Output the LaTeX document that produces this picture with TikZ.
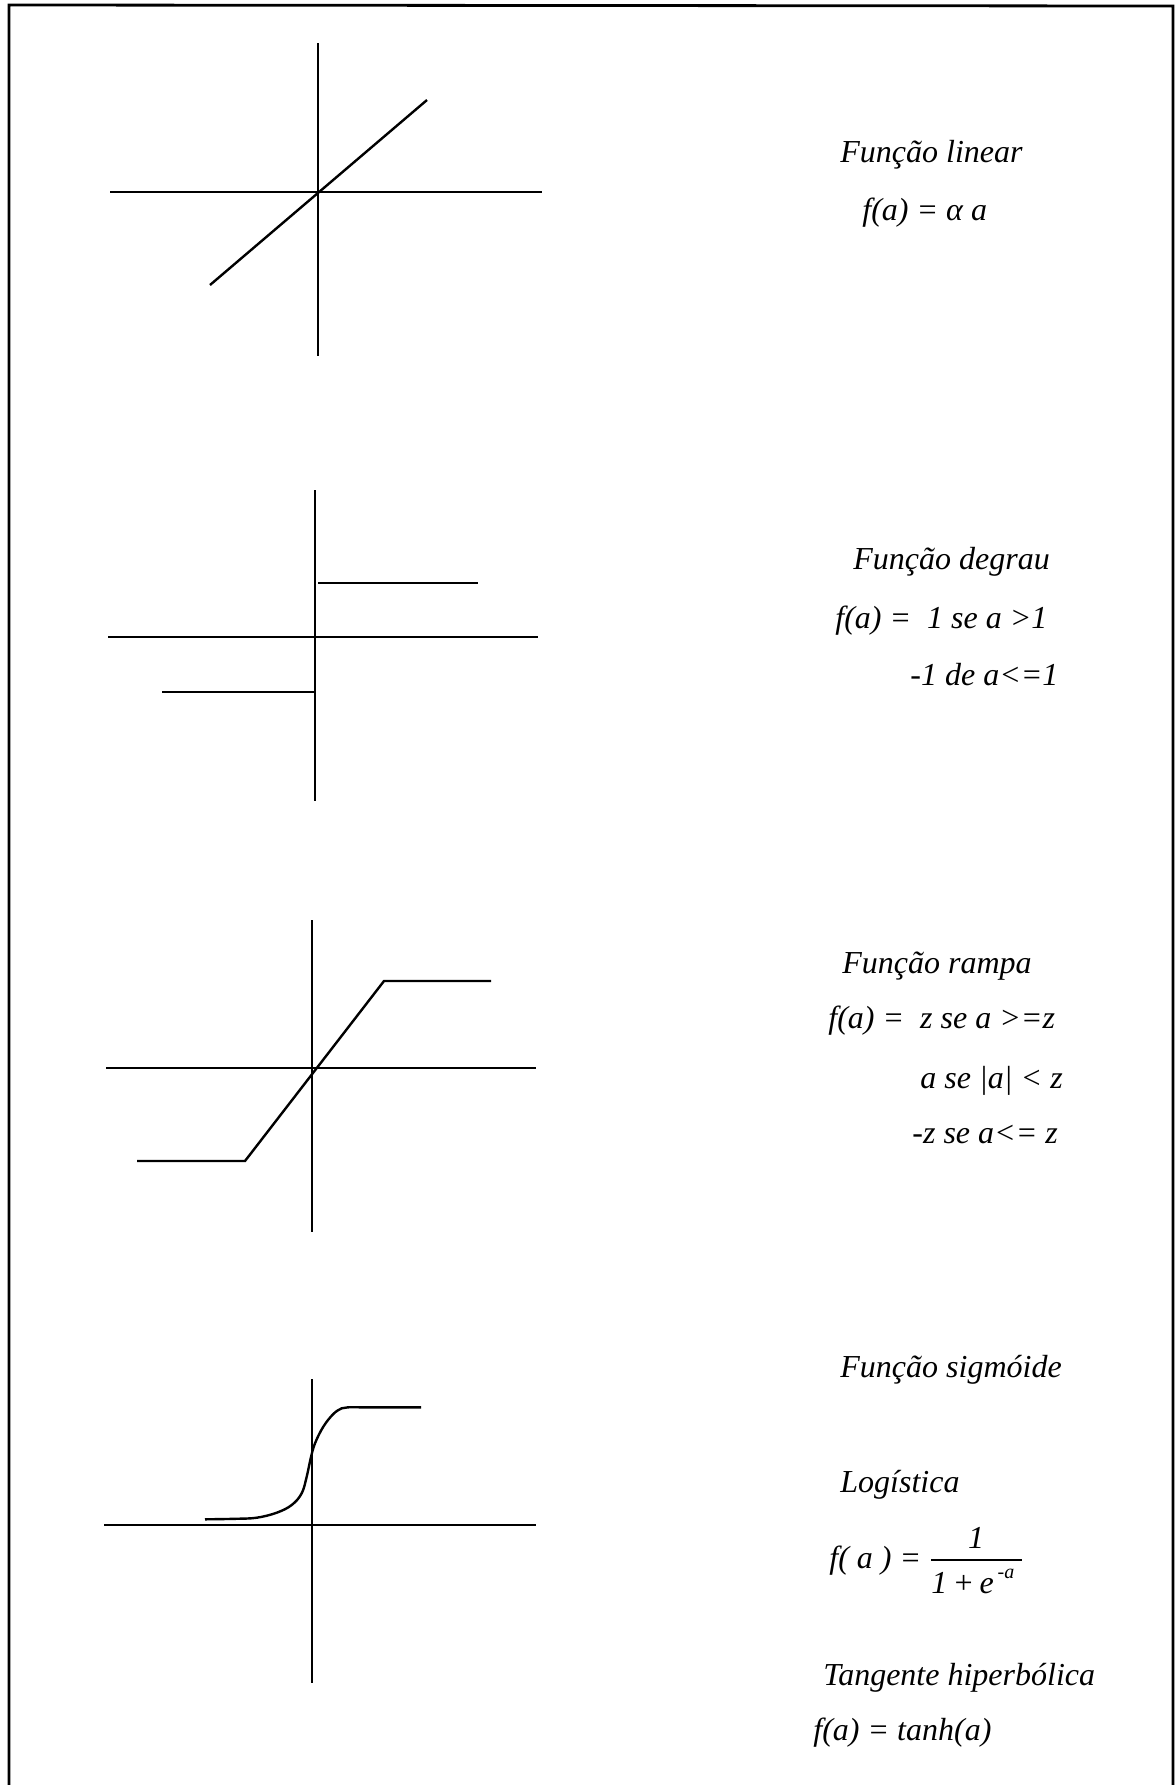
\documentclass[tikz,border=0pt]{standalone}
\usepackage{fontspec}
\setmainfont{Liberation Serif}
\begin{document}
\begin{tikzpicture}[x=0.5pt,y=-0.5pt,
  axis/.style={line width=1.3pt},
  curve/.style={line width=1.2pt},
  frame/.style={line width=1.4pt},
  lbl/.style={anchor=base west, inner sep=0pt, font=\itshape\fontsize{16}{19}\selectfont},
  suplbl/.style={anchor=base west, inner sep=0pt, font=\itshape\fontsize{10}{12}\selectfont}]
\useasboundingbox (0,0) rectangle (1176,1785);
% frame
\coordinate (fTL) at (9,5);
\coordinate (fTR) at (1173,6);
\coordinate (fBL) at (9,1785);
\coordinate (fBR) at (1173,1785);
\draw[frame] (fBL) -- (fTL) -- (fTR) -- (fBR);

% ---- linear
\draw[axis] (318,43) -- (318,356);
\draw[axis] (110,192) -- (542,192);
\draw[curve] (210,285) -- (427,100);
\node[lbl] (t1) at (840,162) {Função linear};
\node[lbl] (e1) at (862,220) {f(a) = α a};

% ---- step
\draw[axis] (315,490) -- (315,801);
\draw[axis] (108,637) -- (538,637);
\draw[curve] (318,583) -- (478,583);
\draw[curve] (162,692) -- (315,692);
\node[lbl] (t2) at (853,569) {Função degrau};
\node[lbl] (e2a) at (835,628) {f(a) = \ 1 se a >1};
\node[lbl] (e2b) at (910,685) {-1 de a<=1};

% ---- ramp
\draw[axis] (312,920) -- (312,1232);
\draw[axis] (106,1068) -- (536,1068);
\draw[curve] (137,1161) -- (245,1161) -- (384,981) -- (491,981);
\node[lbl] (t3) at (842,973) {Função rampa};
\node[lbl] (e3a) at (828,1028) {f(a) = \ z se a >=z};
\node[lbl] (e3b) at (920,1088) {a se |a| < z};
\node[lbl] (e3c) at (912,1143) {-z se a<= z};

% ---- sigmoid
\draw[axis] (312,1379) -- (312,1683);
\draw[axis] (104,1525) -- (536,1525);
\draw[curve] plot[smooth, tension=0.6] coordinates {(205,1519.3) (235,1518.8) (256.7,1517.7) (276.7,1512.7) (291.7,1505) (301.7,1493.3) (306.7,1476.7) (310.7,1458.3) (315,1443.3) (323.3,1426.7) (333.3,1414) (341.7,1408.3) (348,1407.3) (360,1407.3)} -- (421,1407.3);
\node[lbl] (t4) at (840,1377) {Função sigmóide};
\node[lbl] (t5) at (840,1492) {Logística};
\node[lbl] (e4) at (829,1568) {f( a ) =};
\node[lbl, anchor=base] (num) at (976,1548) {1};
\coordinate (barL) at (931,1560);
\coordinate (barR) at (1022,1560);
\draw[line width=0.9pt] (barL) -- (barR);
\node[lbl] (den) at (931,1593) {1\,+\,e};
\node[suplbl, xshift=1.5pt, yshift=7.5pt] (dsup) at (den.base east) {-a};
\node[lbl] (t6) at (823,1685) {Tangente hiperbólica};
\node[lbl] (e6) at (813,1740) {f(a) = tanh(a)};
\end{tikzpicture}
\end{document}
